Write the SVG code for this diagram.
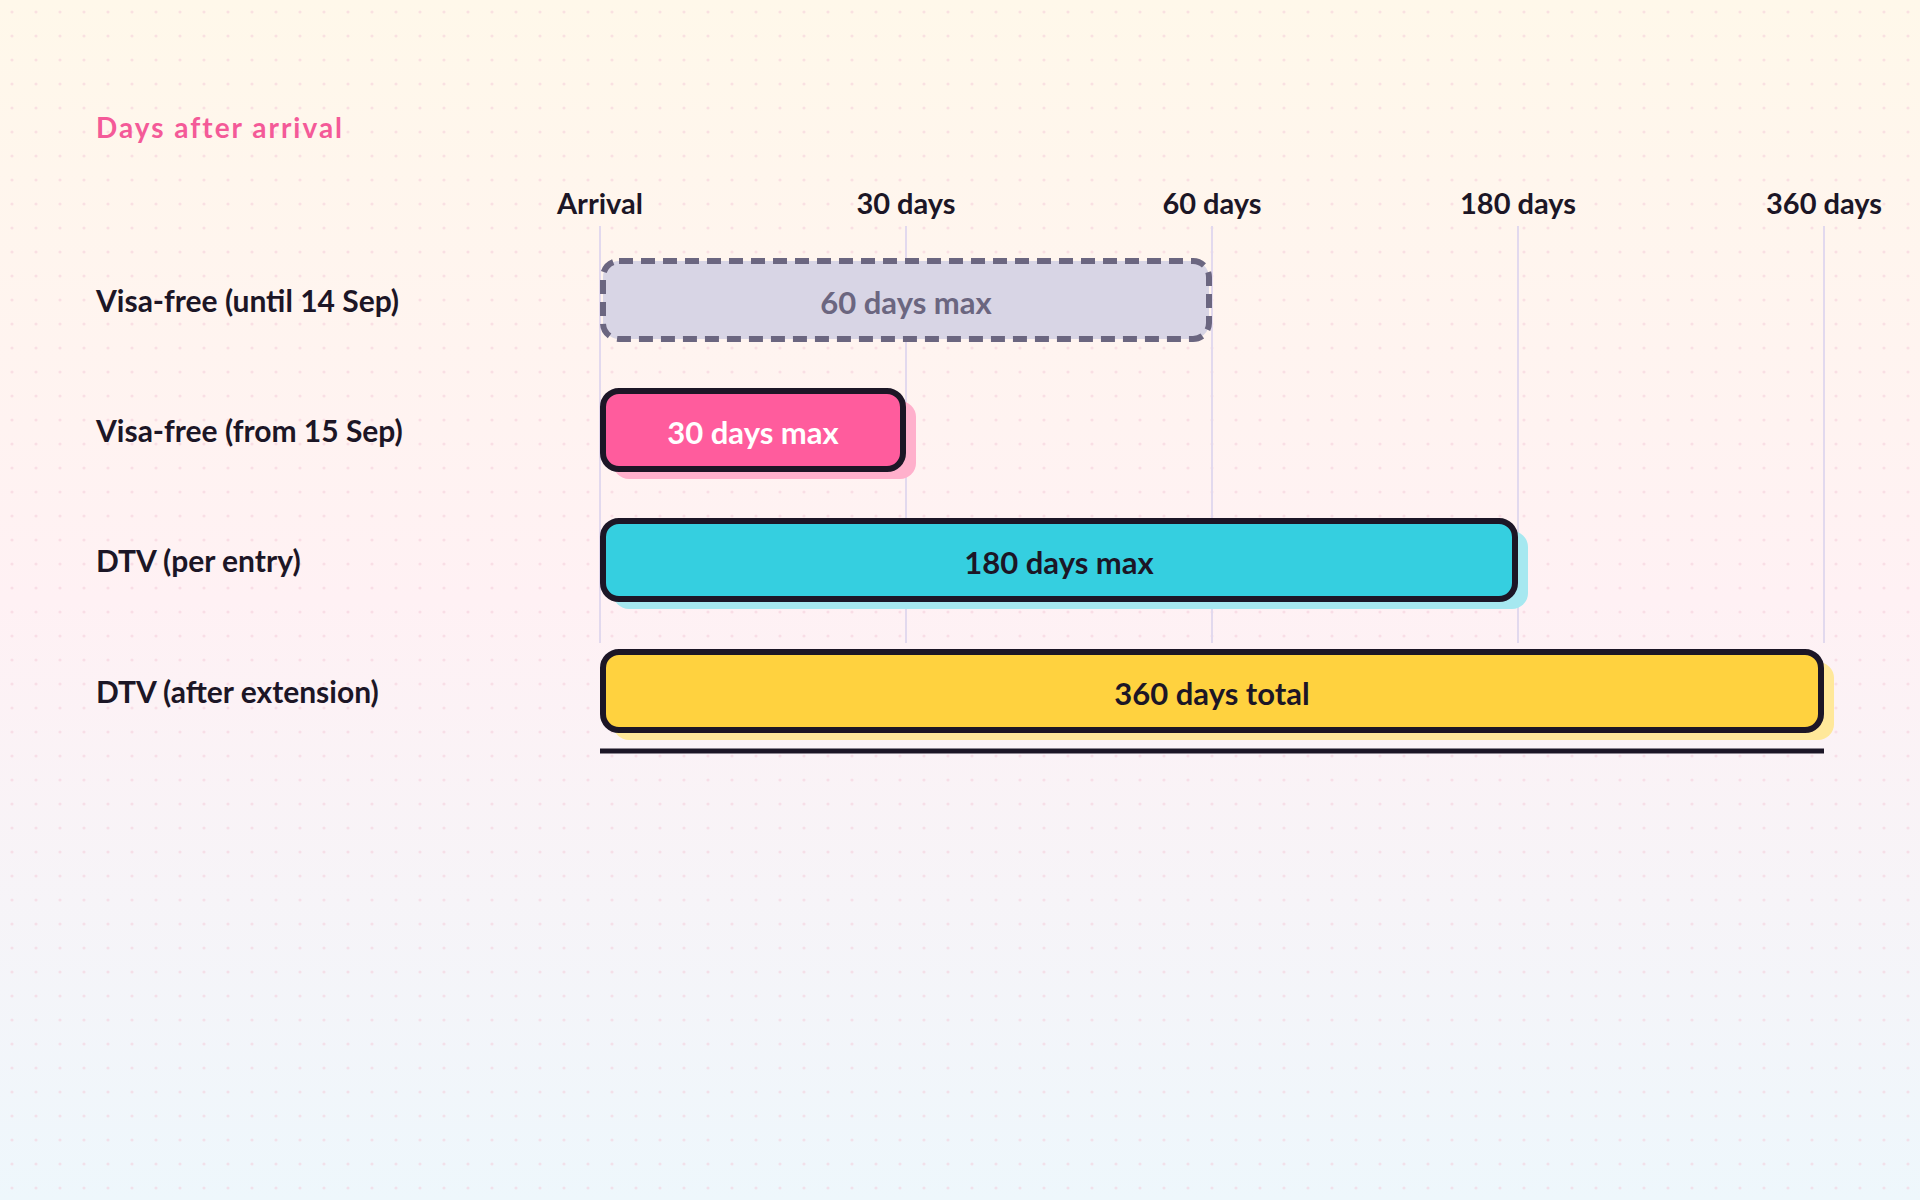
<svg xmlns="http://www.w3.org/2000/svg" width="1920" height="1200" viewBox="0 0 1920 1200">
<defs>
<linearGradient id="bg" x1="0" y1="0" x2="0" y2="1">
<stop offset="0" stop-color="#fff8ea"/><stop offset="0.5" stop-color="#fff1f4"/><stop offset="1" stop-color="#eef7fc"/>
</linearGradient>
<pattern id="dots" width="24" height="24" patternUnits="userSpaceOnUse">
<circle cx="12" cy="12" r="1.6" fill="#f3c9d8" opacity="0.5"/>
</pattern>
<style>
text{font-family:Lato,"Noto Sans",sans-serif;font-weight:700}
.lab{font-size:30px;fill:#1c1626}
.ax{font-size:29px;fill:#1c1626;text-anchor:middle}
.bt{font-size:31px;text-anchor:middle;dominant-baseline:central}
.grid{stroke:#e2d9ee;stroke-width:2}
.bar{stroke:#1c1626;stroke-width:6}
</style>
</defs>
<rect width="1920" height="1200" fill="url(#bg)"/>
<rect width="1920" height="1200" fill="url(#dots)"/>
<text x="96" y="138" font-size="28" fill="#f45a98" letter-spacing="2">Days after arrival</text>
<g id="axis">
<text class="ax" x="600" y="214">Arrival</text>
<text class="ax" x="906" y="214">30 days</text>
<text class="ax" x="1212" y="214">60 days</text>
<text class="ax" x="1518" y="214">180 days</text>
<text class="ax" x="1824" y="214">360 days</text>
<line class="grid" x1="600" y1="226" x2="600" y2="643"/>
<line class="grid" x1="906" y1="226" x2="906" y2="643"/>
<line class="grid" x1="1212" y1="226" x2="1212" y2="643"/>
<line class="grid" x1="1518" y1="226" x2="1518" y2="643"/>
<line class="grid" x1="1824" y1="226" x2="1824" y2="643"/>
<line x1="600" y1="751" x2="1824" y2="751" stroke="#1c1626" stroke-width="5"/>
</g>
<g id="row1">
<text class="lab" x="96" y="312">Visa-free (until 14 Sep)</text>
<rect x="603" y="261" width="606" height="78" rx="16" fill="#d8d5e5" stroke="#6b6680" stroke-width="6" stroke-dasharray="14 8"/>
<text class="bt" x="906" y="302" fill="#6b6680">60 days max</text>
</g>
<g id="row2">
<text class="lab" x="96" y="442">Visa-free (from 15 Sep)</text>
<rect x="613" y="401" width="303" height="78" rx="16" fill="#ffb0cc"/>
<rect class="bar" x="603" y="391" width="300" height="78" rx="16" fill="#ff5c9d"/>
<text class="bt" x="753" y="432" fill="#ffffff">30 days max</text>
</g>
<g id="row3">
<text class="lab" x="96" y="572">DTV (per entry)</text>
<rect x="613" y="531" width="915" height="78" rx="16" fill="#a6e8f0"/>
<rect class="bar" x="603" y="521" width="912" height="78" rx="16" fill="#35cfe0"/>
<text class="bt" x="1059" y="562" fill="#1c1626">180 days max</text>
</g>
<g id="row4">
<text class="lab" x="96" y="703">DTV (after extension)</text>
<rect x="613" y="662" width="1221" height="78" rx="16" fill="#ffe89a"/>
<rect class="bar" x="603" y="652" width="1218" height="78" rx="16" fill="#ffd23f"/>
<text class="bt" x="1212" y="693" fill="#1c1626">360 days total</text>
</g>
</svg>
